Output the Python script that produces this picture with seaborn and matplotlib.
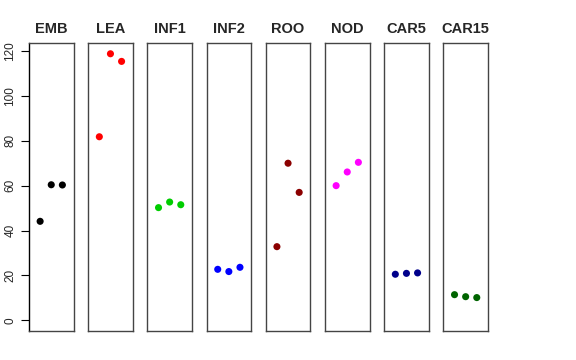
import matplotlib
matplotlib.use("Agg")
import matplotlib.pyplot as plt
import seaborn as sns
import pandas as pd

# dati
stages = ["EMB", "LEA", "INF1", "INF2", "ROO", "NOD", "CAR5", "CAR15"]
colori = ["#000000", "#FF0000", "#00CD00", "#0000FF", "#8B0000", "#FF00FF", "#00008B", "#006400"]
rep = [1, 2, 3]
valori = [
    [44.1, 60.4, 60.3],
    [81.8, 118.8, 115.4],
    [50.2, 52.7, 51.5],
    [22.7, 21.7, 23.6],
    [32.8, 70.0, 57.0],
    [60.0, 66.1, 70.4],
    [20.5, 20.9, 21.1],
    [11.4, 10.5, 10.1],
]
yticks = [0, 20, 40, 60, 80, 100, 120]

sns.set_style("white")
plt.rcParams["font.family"] = ["Liberation Sans", "DejaVu Sans"]

W, H = 576, 360
fig = plt.figure(figsize=(W / 100, H / 100), dpi=100)

x0, pw, step = 29, 44.5, 59.2
top, bot = 43, 331

for i, (nome, col, vals) in enumerate(zip(stages, colori, valori)):
    left = x0 + i * step
    ax = fig.add_axes([left / W, (H - bot) / H, pw / W, (bot - top) / H])
    df = pd.DataFrame({"rep": rep, "val": vals})
    sns.scatterplot(data=df, x="rep", y="val", color=col, s=26, edgecolor="none", ax=ax)
    ax.set_xlim(0, 4)
    ax.set_ylim(-4.8, 123.6)
    ax.set_xticks([])
    ax.set_xlabel("")
    ax.set_ylabel("")
    ax.set_title(nome, fontsize=10.5, fontweight="bold", pad=7)
    for s in ax.spines.values():
        s.set_visible(True)
        s.set_color("#444444")
        s.set_linewidth(1.0)
    if i == 0:
        ax.set_yticks(yticks)
        ax.set_yticklabels([str(t) for t in yticks])
        ax.tick_params(axis="y", length=6, width=0.8, pad=3, left=True,
                       color="black", labelsize=8.5, labelrotation=90)
        for lab in ax.get_yticklabels():
            lab.set_verticalalignment("center")
        ax.spines["left"].set_color("black")
    else:
        ax.set_yticks([])

fig.savefig("out.png", dpi=100)
